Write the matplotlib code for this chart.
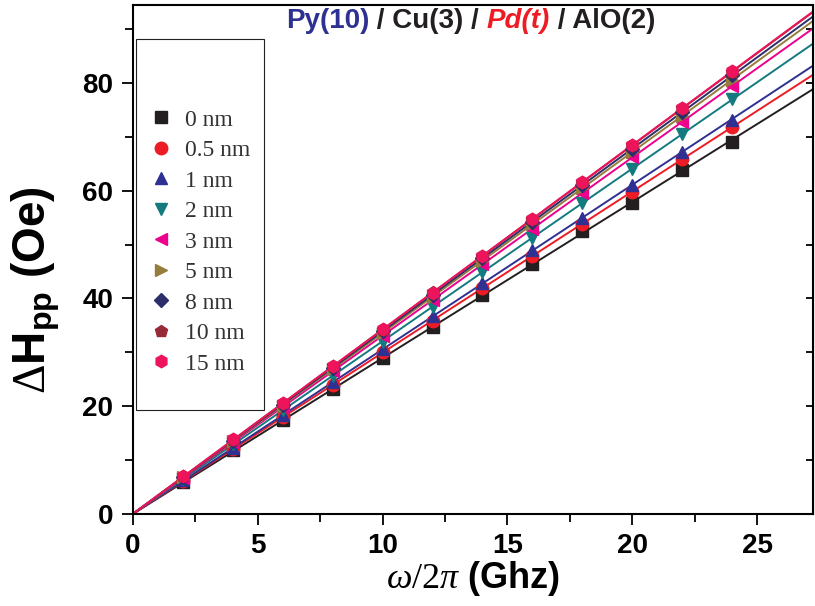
"""
dHpp vs frequency for Py/Cu/Pd(t)/AlO stacks.
"""
import numpy as np
import matplotlib
matplotlib.use("Agg")
import matplotlib.pyplot as plt
from matplotlib.patches import Rectangle

plt.rcParams['font.family'] = ['Liberation Sans', 'DejaVu Sans']
plt.rcParams['mathtext.fontset'] = 'custom'
plt.rcParams['mathtext.rm'] = 'Liberation Serif'
plt.rcParams['mathtext.it'] = 'Liberation Serif:italic'
plt.rcParams['mathtext.bf'] = 'Liberation Sans:bold'

# frequency (GHz)
freq = [2, 4, 6, 8, 10, 12, 14, 16, 18, 20, 22, 24]

# linewidth (Oe) for each Pd thickness
dh_0 = [5.9, 11.8, 17.4, 23.2, 29.0, 34.7, 40.6, 46.4, 52.5, 57.8, 63.8, 69.0]
dh_05 = [6.1, 12.1, 18.0, 24.0, 30.0, 35.9, 41.9, 47.9, 53.9, 59.8, 65.8, 71.8]
dh_1 = [6.2, 12.3, 18.4, 24.5, 30.6, 36.7, 42.8, 48.9, 55.0, 61.1, 67.2, 73.2]
dh_2 = [6.5, 12.9, 19.2, 25.6, 32.0, 38.5, 44.9, 51.3, 57.7, 64.0, 70.5, 77.0]
dh_3 = [6.7, 13.3, 19.8, 26.5, 33.1, 39.7, 46.3, 52.9, 59.6, 66.2, 72.8, 79.4]
dh_5 = [6.8, 13.5, 20.1, 26.9, 33.6, 40.3, 47.0, 53.8, 60.5, 67.2, 73.9, 80.6]
dh_8 = [6.9, 13.6, 20.3, 27.1, 33.9, 40.7, 47.5, 54.2, 61.0, 67.8, 74.6, 81.4]
dh_10 = [7.0, 13.8, 20.6, 27.4, 34.2, 41.1, 47.9, 54.7, 61.6, 68.4, 75.3, 82.0]
dh_15 = [7.1, 13.9, 20.6, 27.4, 34.3, 41.0, 47.9, 54.8, 61.6, 68.5, 75.3, 82.2]

labels = ['0 nm', '0.5 nm', '1 nm', '2 nm', '3 nm', '5 nm', '8 nm', '10 nm', '15 nm']
series = [dh_0, dh_05, dh_1, dh_2, dh_3, dh_5, dh_8, dh_10, dh_15]
colors = ['#231f20', '#ed1c24', '#2e3192', '#137a80', '#ec008c',
          '#957d3c', '#2b2e6b', '#962a36', '#ed145b']
markers = ['s', 'o', '^', 'v', '<', '>', 'D', 'p', 'h']
msizes = [8, 9, 9, 9, 9, 9, 7, 9, 9]

XMAX = 27.25
YMAX = 94.5


def main():
    fig = plt.figure(figsize=(8.15, 6.06), dpi=100)
    ax = fig.add_axes([0.163, 0.152, 0.835, 0.840])

    x = np.array(freq, dtype=float)
    xfit = np.linspace(0, XMAX, 50)
    for y, lab, c, m, ms in zip(series, labels, colors, markers, msizes):
        y = np.array(y)
        slope = np.sum(x * y) / np.sum(x * x)  # fit through origin
        ax.plot(xfit, slope * xfit, '-', color=c, lw=1.4, zorder=2)
        ax.plot(x, y, m, color=c, ms=ms, mec=c, label=lab, zorder=3)

    ax.set_xlim(0, XMAX)
    ax.set_ylim(0, YMAX)
    ax.set_xticks([0, 5, 10, 15, 20, 25])
    ax.set_xticks(np.arange(2.5, 27.5, 5), minor=True)
    ax.set_yticks([0, 20, 40, 60, 80])
    ax.set_yticks([10, 30, 50, 70, 90], minor=True)
    ax.tick_params(which='both', direction='out', width=1.3, top=False, right=False)
    ax.tick_params(which='major', length=8, labelsize=20, pad=6)
    ax.tick_params(which='minor', length=6)
    for lab in ax.get_xticklabels() + ax.get_yticklabels():
        lab.set_fontweight('bold')
    for s in ax.spines.values():
        s.set_linewidth(1.5)

    # inward ticks on the right spine
    ax2 = ax.secondary_yaxis('right')
    ax2.set_yticks([0, 20, 40, 60, 80])
    ax2.set_yticks([10, 30, 50, 70, 90], minor=True)
    ax2.tick_params(which='both', direction='in', length=5, width=1.3, labelright=False)

    ax.set_xlabel(r'$\mathit{\omega/2\pi}$ (Ghz)', fontsize=26, fontweight='bold', labelpad=0)
    ax.set_ylabel(r'$\mathrm{\Delta}\mathbf{H_{pp}}$ (Oe)', fontsize=33, fontweight='bold')
    ax.yaxis.set_label_coords(-0.104, 0.44)

    # coloured title inside the frame
    t1 = ax.text(0.225, 0.993, 'Py(10)', transform=ax.transAxes, fontsize=20,
                 fontweight='bold', color='#2e3192', va='top')
    t2 = ax.annotate(' / Cu(3) / ', xy=(1, 0), xycoords=t1, va='bottom',
                     fontsize=20, fontweight='bold', color='#231f20')
    t3 = ax.annotate('Pd(t)', xy=(1, 0), xycoords=t2, va='bottom', fontsize=20,
                     fontweight='bold', fontstyle='italic', color='#ed1c24')
    ax.annotate(' / AlO(2)', xy=(1, 0), xycoords=t3, va='bottom',
                fontsize=20, fontweight='bold', color='#231f20')

    # legend box
    ax.add_patch(Rectangle((0.005, 0.205), 0.188, 0.728, transform=ax.transAxes,
                           fill=False, ec='#231f20', lw=0.8, zorder=4))
    leg = ax.legend(loc='upper left', bbox_to_anchor=(0.0216, 0.795), frameon=False,
                    prop={'family': 'Liberation Serif', 'size': 17},
                    handletextpad=0.42, labelspacing=0.38, handlelength=1.15,
                    borderpad=0, borderaxespad=0)
    for txt in leg.get_texts():
        txt.set_color('#333333')
    leg.set_zorder(5)

    fig.savefig('out.png', dpi=100)


if __name__ == "__main__":
    main()
